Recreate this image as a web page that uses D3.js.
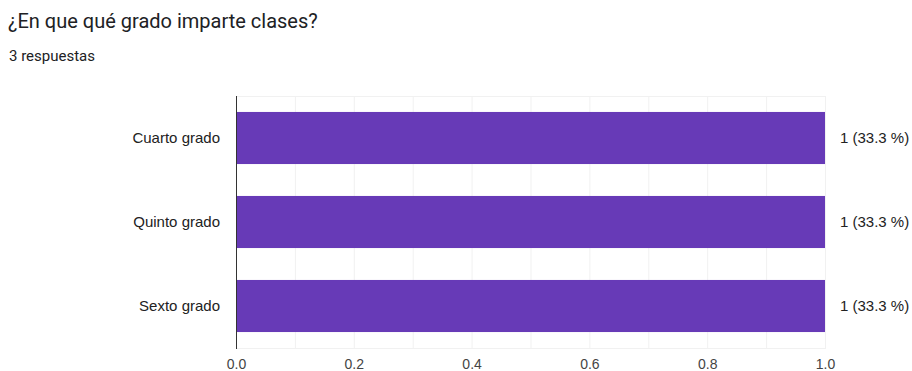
<!DOCTYPE html>
<html>
<head>
<meta charset="utf-8">
<script src="https://cdn.jsdelivr.net/npm/d3@7"></script>
<style>
  body { margin: 0; background: #fff; }
  .title { font-family: Roboto, "Noto Sans", sans-serif; font-size: 20px; fill: #202124; }
  .sub { font-family: Roboto, "Noto Sans", sans-serif; font-size: 15px; fill: #202124; }
  .lbl { font-family: "Liberation Sans", Arial, sans-serif; font-size: 15px; fill: #222; }
  .tick text { font-family: "Liberation Sans", Arial, sans-serif; font-size: 14px; fill: #444; }
</style>
</head>
<body>
<div class="container"></div>
<script>
const WIDTH = 912;
const HEIGHT = 371;

var categories = ['Cuarto grado', 'Quinto grado', 'Sexto grado'];
var counts = [1, 1, 1];
var valueLabels = ['1 (33.3 %)', '1 (33.3 %)', '1 (33.3 %)'];
var xTicks = [0, 0.2, 0.4, 0.6, 0.8, 1.0];
var gridTicks = [0, 0.1, 0.2, 0.3, 0.4, 0.5, 0.6, 0.7, 0.8, 0.9, 1.0];

var plot = {left: 236, right: 825, top: 96, bottom: 348};

var translate = function(x, y) {
    return `translate(${x},${y})`;
};

var draw = function() {
    var svg = d3.select('.container').append('svg')
        .attr('width', WIDTH)
        .attr('height', HEIGHT);

    svg.append('text').classed('title', true)
        .attr('x', 8).attr('y', 28)
        .text('¿En que qué grado imparte clases?');
    svg.append('text').classed('sub', true)
        .attr('x', 9).attr('y', 61)
        .text('3 respuestas');

    let xScale = d3.scaleLinear()
        .domain([0, 1])
        .range([plot.left, plot.right]);

    let yScale = d3.scaleBand()
        .domain(categories)
        .range([plot.top, plot.bottom])
        .paddingInner(0.38)
        .paddingOuter(0.19);

    // grid
    svg.append('g').selectAll('line')
        .data(gridTicks)
        .join('line')
        .attr('x1', d => xScale(d) + 0.5).attr('x2', d => xScale(d) + 0.5)
        .attr('y1', plot.top).attr('y2', plot.bottom)
        .attr('stroke', '#f1f1f1');
    svg.append('g').selectAll('line')
        .data([plot.top, plot.bottom])
        .join('line')
        .attr('x1', plot.left).attr('x2', plot.right + 1)
        .attr('y1', d => d + 0.5).attr('y2', d => d + 0.5)
        .attr('stroke', '#f1f1f1');

    // bars
    svg.append('g').selectAll('rect')
        .data(categories)
        .join('rect')
        .attr('x', xScale(0))
        .attr('y', d => yScale(d))
        .attr('width', (d, i) => xScale(counts[i]) - xScale(0))
        .attr('height', yScale.bandwidth())
        .attr('fill', '#673ab7');

    // category labels
    svg.append('g').selectAll('text')
        .data(categories)
        .join('text')
        .classed('lbl', true)
        .attr('x', 220)
        .attr('y', d => yScale(d) + yScale.bandwidth() / 2 + 5)
        .attr('text-anchor', 'end')
        .text(d => d);

    // value labels
    svg.append('g').selectAll('text')
        .data(categories)
        .join('text')
        .classed('lbl', true)
        .attr('x', 840)
        .attr('y', d => yScale(d) + yScale.bandwidth() / 2 + 5)
        .text((d, i) => valueLabels[i]);

    // x axis
    let xAxis = d3.axisBottom(xScale)
        .tickValues(xTicks)
        .tickSize(0)
        .tickPadding(11)
        .tickFormat(d3.format('.1f'));
    svg.append('g')
        .attr('transform', translate(0, plot.bottom))
        .call(xAxis)
        .call(g => g.select('.domain').remove());

    // left axis line
    svg.append('line')
        .attr('x1', plot.left + 0.5).attr('x2', plot.left + 0.5)
        .attr('y1', plot.top).attr('y2', plot.bottom + 1)
        .attr('stroke', '#333');
};
window.onload = draw;
</script>
</body>
</html>
